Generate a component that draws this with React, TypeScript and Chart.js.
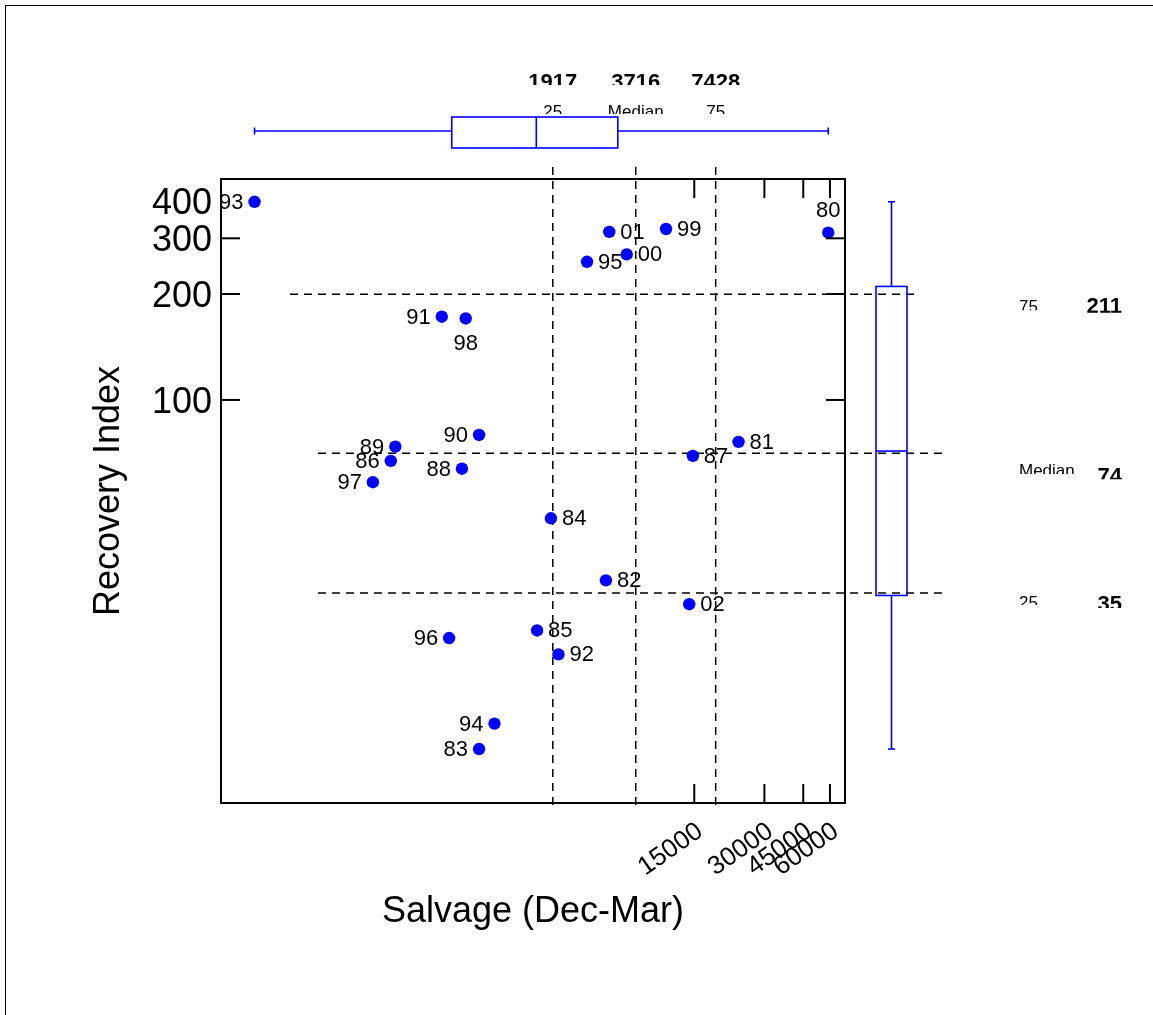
import React, { useEffect, useRef } from 'react';
import { Chart, registerables, LinearScale } from 'chart.js';

Chart.register(...registerables);

// ---------- data ----------
const years = ['80', '81', '82', '83', '84', '85', '86', '87', '88', '89', '90', '91', '92', '93', '94', '95', '96', '97', '98', '99', '00', '01', '02'];
const salvage = [58900, 23100, 6690, 2360, 4190, 3740, 1230, 14800, 2070, 1270, 2360, 1780, 4460, 500, 2660, 5680, 1880, 1085, 2130, 11500, 8040, 6890, 14300];
const recovery = [313, 78, 37.6, 18.2, 51.3, 29.8, 70, 72, 67, 75.9, 81.2, 171, 26.8, 398, 20.1, 252, 28.8, 62.2, 169, 322, 266, 315, 33.6];
const labelSide = ['above', 'right', 'right', 'left', 'right', 'right', 'left', 'right', 'left', 'left', 'left', 'left', 'right', 'left', 'left', 'right', 'left', 'left', 'below', 'right', 'right', 'right', 'right'];

const xQuartiles = [1917, 3716, 7428];
const yQuartiles = [35, 74, 211];
const quartileNames = ['25', 'Median', '75'];

const xTickValues = [15000, 30000, 45000, 60000];
const yTickValues = [100, 200, 300, 400];
const yTickMarkValues = [100, 200, 300];

const xRange = [408, 70800];
const yRange = [14.9, 478];
const xGuideRange = [222, 25830];
const yGuideRange = [14.4, 526];

const xTitle = 'Salvage (Dec-Mar)';
const yTitle = 'Recovery Index';

// ---------- custom double-log scale ----------
const tf = (v: number) => Math.log(Math.log(v));
const itf = (t: number) => Math.exp(Math.exp(t));

class LogLogScale extends LinearScale {
  static id = 'loglog';
  getPixelForValue(value: any) {
    if (value === null || value === undefined || isNaN(value) || value <= 1) return NaN;
    const s = tf(this.min);
    const e = tf(this.max);
    return this.getPixelForDecimal((tf(value) - s) / (e - s));
  }
  getValueForPixel(pixel: number) {
    const s = tf(this.min);
    const e = tf(this.max);
    return itf(s + this.getDecimalForPixel(pixel) * (e - s));
  }
}
Chart.register(LogLogScale as any);

const BLUE = '#0000ff';
const FONT = '"Liberation Sans", Arial, Helvetica, sans-serif';

function clippedText(ctx: CanvasRenderingContext2D, text: string, x: number, baseline: number, clipBottom: number, font: string, align: CanvasTextAlign) {
  ctx.save();
  ctx.beginPath();
  ctx.rect(0, 0, 4000, clipBottom);
  ctx.clip();
  ctx.font = font;
  ctx.textAlign = align;
  ctx.textBaseline = 'alphabetic';
  ctx.fillStyle = '#000';
  ctx.fillText(text, x, baseline);
  ctx.restore();
}

function line(ctx: CanvasRenderingContext2D, x1: number, y1: number, x2: number, y2: number) {
  ctx.beginPath();
  ctx.moveTo(x1, y1);
  ctx.lineTo(x2, y2);
  ctx.stroke();
}

const decorPlugin = {
  id: 'decor',
  beforeDatasetsDraw(chart: any) {
    const { ctx, chartArea: ca, scales } = chart;
    const xg = scales.xg;
    const yg = scales.yg;
    ctx.save();
    // outer frame
    ctx.strokeStyle = '#000';
    ctx.lineWidth = 1;
    ctx.strokeRect(5.5, 5.5, chart.width + 50, chart.height + 50);
    // dashed quartile guides
    ctx.lineWidth = 1.5;
    ctx.setLineDash([8, 6]);
    for (const q of xQuartiles) {
      const px = xg.getPixelForValue(q);
      line(ctx, px, ca.top - 12, px, ca.bottom + 7);
    }
    yQuartiles.forEach((q, i) => {
      const py = yg.getPixelForValue(q);
      const start = ca.left + (i === 2 ? 69 : 97);
      line(ctx, start, py, start + (ca.right - ca.left), py);
    });
    ctx.setLineDash([]);
    ctx.restore();
  },
  afterDatasetsDraw(chart: any) {
    const { ctx, chartArea: ca, scales } = chart;
    const xs = scales.x;
    const ys = scales.y;
    const xg = scales.xg;
    const yg = scales.yg;
    ctx.save();

    // plot box
    ctx.strokeStyle = '#000';
    ctx.lineWidth = 2;
    ctx.strokeRect(ca.left, ca.top, ca.right - ca.left, ca.bottom - ca.top);
    // inward tick marks
    const tl = 19;
    for (const v of xTickValues) {
      const px = xs.getPixelForValue(v);
      line(ctx, px, ca.top, px, ca.top + tl);
      line(ctx, px, ca.bottom, px, ca.bottom - tl);
    }
    for (const v of yTickMarkValues) {
      const py = ys.getPixelForValue(v);
      line(ctx, ca.left, py, ca.left + tl, py);
      line(ctx, ca.right, py, ca.right - tl, py);
    }

    // top boxplot (salvage)
    ctx.strokeStyle = BLUE;
    ctx.lineWidth = 1.6;
    const wy = ca.top - 48;
    const bTop = ca.top - 62;
    const bBot = ca.top - 31;
    const xmin = xs.getPixelForValue(Math.min(...salvage));
    const xmax = xs.getPixelForValue(Math.max(...salvage));
    const xq1 = xs.getPixelForValue(xQuartiles[0]);
    const xmd = xs.getPixelForValue(xQuartiles[1]);
    const xq3 = xs.getPixelForValue(xQuartiles[2]);
    line(ctx, xmin, wy, xq1, wy);
    line(ctx, xq3, wy, xmax, wy);
    line(ctx, xmin, wy - 3.5, xmin, wy + 3.5);
    line(ctx, xmax, wy - 3.5, xmax, wy + 3.5);
    ctx.strokeRect(xq1, bTop, xq3 - xq1, bBot - bTop);
    line(ctx, xmd, bTop, xmd, bBot);

    // right boxplot (recovery)
    const cx = ca.right + 46.5;
    const hw = 15.5;
    const ymin = ys.getPixelForValue(Math.min(...recovery));
    const ymax = ys.getPixelForValue(Math.max(...recovery));
    const yq1 = ys.getPixelForValue(yQuartiles[0]);
    const ymd = ys.getPixelForValue(yQuartiles[1]);
    const yq3 = ys.getPixelForValue(yQuartiles[2]);
    line(ctx, cx, ymax, cx, yq3);
    line(ctx, cx, yq1, cx, ymin);
    line(ctx, cx - 3.5, ymax, cx + 3.5, ymax);
    line(ctx, cx - 3.5, ymin, cx + 3.5, ymin);
    ctx.strokeRect(cx - hw, yq3, hw * 2, yq1 - yq3);
    line(ctx, cx - hw, ymd, cx + hw, ymd);

    // top quartile labels
    const numFont = `bold 22px ${FONT}`;
    const nameFont = `17px ${FONT}`;
    xQuartiles.forEach((q, i) => {
      const px = xg.getPixelForValue(q);
      clippedText(ctx, String(q), px, ca.top - 90, ca.top - 94, numFont, 'center');
      clippedText(ctx, quartileNames[i], px, ca.top - 62, ca.top - 65, nameFont, 'center');
    });
    // right quartile labels
    const nameTop = [3, 10.7, 6];
    const nameClip = [12, 20.7, 16];
    const numTop = [2, 14, 3];
    const numClip = [15, 26, 18.7];
    yQuartiles.forEach((q, i) => {
      const py = yg.getPixelForValue(q);
      clippedText(ctx, quartileNames[i], ca.right + 174, py + nameTop[i] + 12.2, py + nameClip[i], nameFont, 'left');
      clippedText(ctx, String(q), ca.right + 277, py + numTop[i] + 15.75, py + numClip[i], numFont, 'right');
    });

    // point labels
    const meta = chart.getDatasetMeta(0);
    ctx.fillStyle = '#000';
    ctx.font = `22px ${FONT}`;
    meta.data.forEach((pt: any, i: number) => {
      const side = labelSide[i];
      const t = years[i];
      if (side === 'right') {
        ctx.textAlign = 'left';
        ctx.textBaseline = 'middle';
        ctx.fillText(t, pt.x + 11, pt.y + 1);
      } else if (side === 'left') {
        ctx.textAlign = 'right';
        ctx.textBaseline = 'middle';
        ctx.fillText(t, pt.x - 11, pt.y + 1);
      } else if (side === 'above') {
        ctx.textAlign = 'center';
        ctx.textBaseline = 'alphabetic';
        ctx.fillText(t, pt.x, pt.y - 16);
      } else {
        ctx.textAlign = 'center';
        ctx.textBaseline = 'alphabetic';
        ctx.fillText(t, pt.x, pt.y + 32);
      }
    });
    ctx.restore();
  },
};

export default function App() {
  const ref = useRef<HTMLCanvasElement | null>(null);
  useEffect(() => {
    const canvas = ref.current;
    if (!canvas) return;
    const chart = new Chart(canvas, {
      type: 'scatter',
      data: {
        datasets: [
          {
            data: salvage.map((v, i) => ({ x: v, y: recovery[i] })),
            backgroundColor: BLUE,
            borderColor: BLUE,
            borderWidth: 0,
            pointRadius: 6.2,
            pointHoverRadius: 6.2,
            xAxisID: 'x',
            yAxisID: 'y',
          },
        ],
      },
      options: {
        responsive: false,
        animation: false,
        events: [],
        devicePixelRatio: 1,
        layout: { padding: { left: 0, top: 179, right: 308, bottom: 72 } },
        plugins: { legend: { display: false }, tooltip: { enabled: false } },
        scales: {
          x: {
            type: 'loglog' as any,
            position: 'bottom',
            min: xRange[0],
            max: xRange[1],
            afterBuildTicks: (s: any) => {
              s.ticks = xTickValues.map((v) => ({ value: v }));
            },
            afterFit: (s: any) => {
              s.height = 140;
            },
            grid: { display: false, drawTicks: false },
            border: { display: false },
            ticks: {
              autoSkip: false,
              minRotation: 35,
              maxRotation: 35,
              padding: 13,
              labelOffset: 6,
              color: '#000',
              font: { family: FONT, size: 26 },
              callback: (v: any) => String(v),
            },
            title: {
              display: true,
              text: xTitle,
              color: '#000',
              font: { family: FONT, size: 36 },
              padding: { top: 0, bottom: 9 },
            },
          },
          y: {
            type: 'loglog' as any,
            position: 'left',
            min: yRange[0],
            max: yRange[1],
            afterBuildTicks: (s: any) => {
              s.ticks = yTickValues.map((v) => ({ value: v }));
            },
            afterFit: (s: any) => {
              s.width = 221;
            },
            grid: { display: false, drawTicks: false },
            border: { display: false },
            ticks: {
              autoSkip: false,
              padding: 9,
              labelOffset: 3,
              color: '#000',
              font: { family: FONT, size: 36 },
              callback: (v: any) => String(v),
            },
            title: {
              display: true,
              text: yTitle,
              color: '#000',
              font: { family: FONT, size: 36 },
              padding: { top: 87, bottom: 0 },
            },
          },
          xg: {
            type: 'loglog' as any,
            display: false,
            axis: 'x',
            position: 'top',
            min: xGuideRange[0],
            max: xGuideRange[1],
          },
          yg: {
            type: 'loglog' as any,
            display: false,
            axis: 'y',
            position: 'right',
            min: yGuideRange[0],
            max: yGuideRange[1],
          },
        },
      } as any,
      plugins: [decorPlugin as any],
    });
    return () => chart.destroy();
  }, []);
  return (
    <div style={{ position: 'absolute', left: 0, top: 0, width: 1153, height: 1015, background: '#fff' }}>
      <canvas ref={ref} width={1153} height={1015} />
    </div>
  );
}
